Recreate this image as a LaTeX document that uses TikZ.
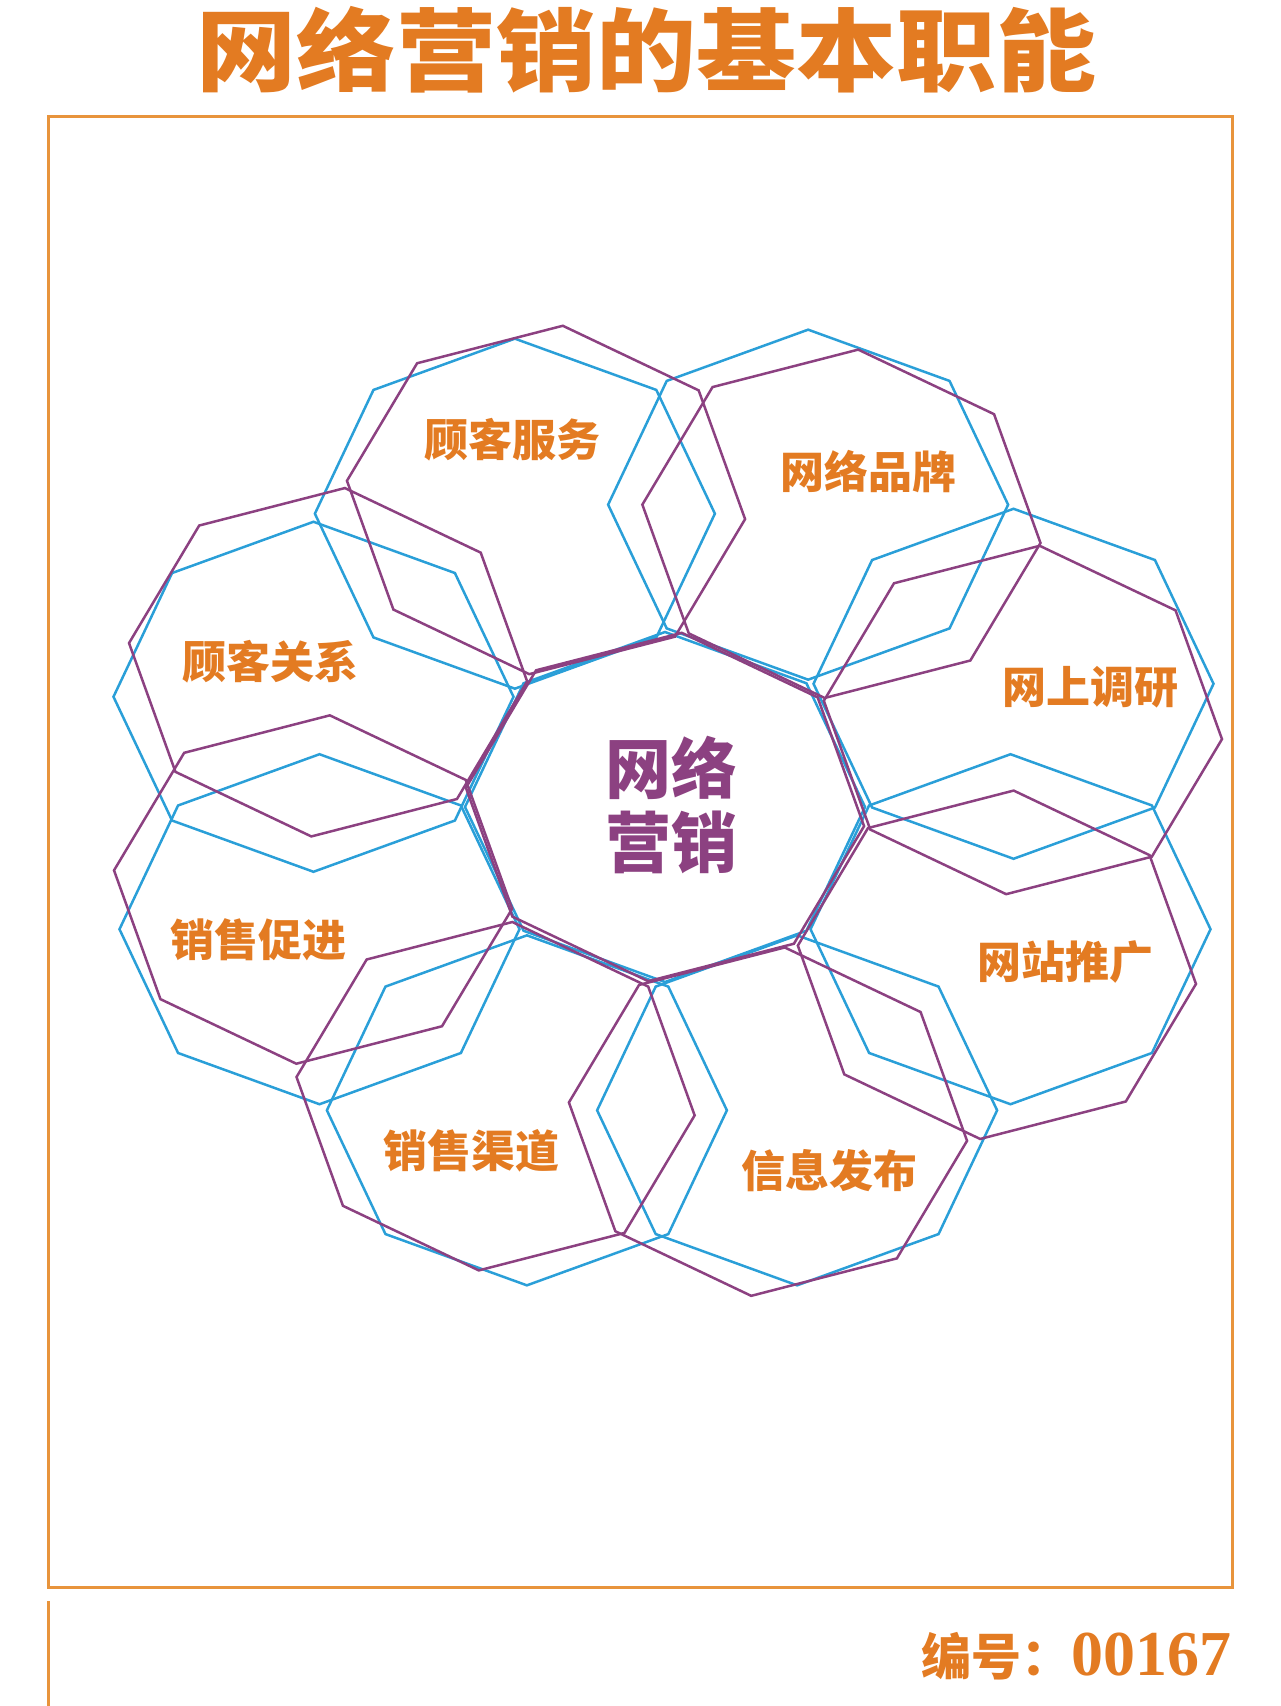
\documentclass[tikz,border=0pt]{standalone}
\usepackage{fontspec}
\newfontfamily\cjk{Noto Sans CJK SC}
\newfontfamily\numf{Liberation Serif}
\definecolor{orng}{HTML}{E37B22}
\definecolor{boxor}{HTML}{E8943C}
\definecolor{pur}{HTML}{8C4181}
\definecolor{blu}{HTML}{2A9FD8}
\def\CX{665}
\def\CY{807}
\def\RX{200}
\def\RY{175}
\def\DD{1.87}
% #1,#2 petal offset before rotation; #3 rotation; #4 style; #5,#6 extra shift
\newcommand\octpath[6]{%
  \draw[#4] plot[samples at={0,45,...,315}, variable=\t]
   ({\CX + (#5) + ((#1) + \RX*cos(\t))*cos(#3) - ((#2) + \RY*sin(\t))*sin(#3)},
    {\CY + (#6) + ((#1) + \RX*cos(\t))*sin(#3) + ((#2) + \RY*sin(\t))*cos(#3)}) -- cycle;}
\begin{document}
\begin{tikzpicture}[x=0.5pt,y=-0.5pt,
  oct/.style={line width=1.25pt, line join=miter},
  blueoct/.style={oct, draw=blu},
  puroct/.style={oct, draw=pur},
  lbl/.style={inner sep=0pt, text=orng, font=\cjk\bfseries\fontsize{22pt}{26pt}\selectfont}]
\useasboundingbox (0,0) rectangle (1280,1706);
% frame
\draw[boxor, line width=1.5pt] (48,117) rectangle (1232,1587);
\draw[boxor, line width=1.5pt] (48,1601) -- (48,1706);
% title
\node[inner sep=0pt, text=orng, font=\cjk\bfseries\fontsize{50pt}{50pt}\selectfont] (title) at (646,50) {\scalebox{1}[0.9]{网络营销的基本职能}};
% blue octagons
\octpath{0}{0}{0}{blueoct}{0}{0}
\foreach \a/\bx/\by in {22.5/0/-3, 67.5/-11/1, 112.5/5/1, 157.5/0/-3, 202.5/-6/15, 247.5/-7/9, 292.5/0/0, 337.5/3/2}
  {\octpath{\DD*\RX*cos(\a)}{\DD*\RY*sin(\a)}{0}{blueoct}{\bx}{\by}}
% purple octagons
\octpath{0}{0}{5.5}{puroct}{0}{0}
\foreach \a/\px/\py in {22.5/0/0, 67.5/-10.5/0, 112.5/2/2, 157.5/4/-9, 202.5/-5/13, 247.5/-5.5/7.6, 292.5/5/4, 337.5/2/4.5}
  {\octpath{\DD*\RX*cos(\a)}{\DD*\RY*sin(\a)}{5.5}{puroct}{\px}{\py}}
% labels
\node[lbl] (l1) at (512,440) {顾客服务};
\node[lbl] (l2) at (868,472) {网络品牌};
\node[lbl] (l3) at (1090,687) {网上调研};
\node[lbl] (l4) at (1065,962) {网站推广};
\node[lbl] (l5) at (829,1171) {信息发布};
\node[lbl] (l6) at (471,1151) {销售渠道};
\node[lbl] (l7) at (258,940) {销售促进};
\node[lbl] (l8) at (270,662) {顾客关系};
\node[inner sep=0pt, align=center, text=pur, font=\cjk\bfseries\fontsize{33pt}{37pt}\selectfont] (center) at (671,805) {网络\\营销};
% number
\node[anchor=east, inner sep=0pt, text=orng, font=\cjk\bfseries\fontsize{25pt}{28pt}\selectfont] (num) at (1232,1656) {编号：{\numf\bfseries\fontsize{32pt}{34pt}\selectfont 00167}};
\end{tikzpicture}
\end{document}
